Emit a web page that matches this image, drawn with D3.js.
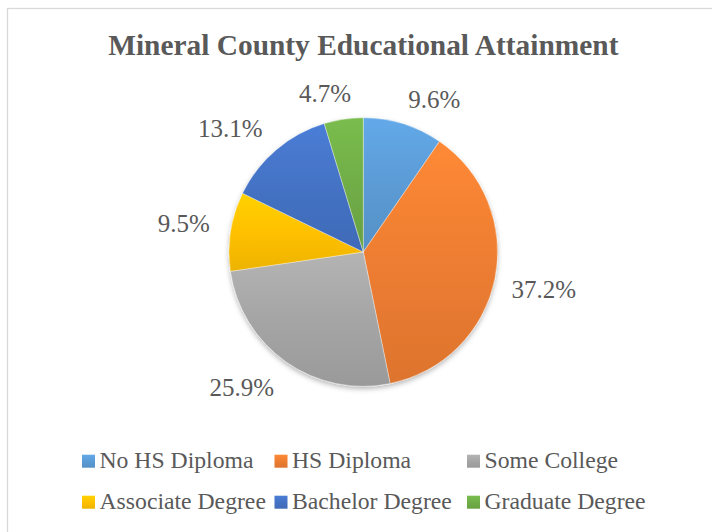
<!DOCTYPE html>
<html>
<head>
<meta charset="utf-8">
<script src="https://cdn.jsdelivr.net/npm/d3@7"></script>
<style>
  html, body { margin: 0; padding: 0; background: #fff; }
  svg { display: block; }
</style>
</head>
<body>
<svg id="chart" width="712" height="532"></svg>
<script>
// ---- data ----
const title = "Mineral County Educational Attainment";
const categories = ["No HS Diploma", "HS Diploma", "Some College", "Associate Degree", "Bachelor Degree", "Graduate Degree"];
const values = [9.6, 37.2, 25.9, 9.5, 13.1, 4.7];
const colors = ["#5B9BD5", "#ED7D31", "#A5A5A5", "#FFC000", "#4472C4", "#70AD47"];

// ---- layout ----
const W = 712, H = 532;
const cx = 363.3, cy = 252, R = 134.3;
const fontFamily = "'Liberation Serif', 'Times New Roman', serif";
const textColor = "#595959";

const svg = d3.select("#chart");
const defs = svg.append("defs");

// chart area border
svg.append("rect")
  .attr("x", 7.5).attr("y", 8.5)
  .attr("width", 730).attr("height", 540)
  .attr("fill", "#fff")
  .attr("stroke", "#d9d9d9").attr("stroke-width", 1.3);

// title
svg.append("text")
  .attr("x", cx).attr("y", 55)
  .attr("text-anchor", "middle")
  .attr("font-family", fontFamily)
  .attr("font-weight", "bold")
  .attr("font-size", 29.4)
  .attr("fill", textColor)
  .text(title);

// gradients per slice
colors.forEach((c, i) => {
  const g = defs.append("linearGradient")
    .attr("id", "grad" + i)
    .attr("x1", 0).attr("y1", 0).attr("x2", 0).attr("y2", 1);
  g.append("stop").attr("offset", "0%").attr("stop-color", d3.color(c).brighter(0.25).formatHex());
  g.append("stop").attr("offset", "50%").attr("stop-color", c);
  g.append("stop").attr("offset", "100%").attr("stop-color", d3.color(c).darker(0.2).formatHex());
});

// shadow filter
const f = defs.append("filter").attr("id", "shadow")
  .attr("x", "-10%").attr("y", "-10%").attr("width", "120%").attr("height", "125%");
f.append("feDropShadow").attr("dx", 0).attr("dy", 2.5).attr("stdDeviation", 2.5)
  .attr("flood-color", "#000").attr("flood-opacity", 0.28);

const pie = d3.pie().sort(null).value(d => d)(values);
const arc = d3.arc().innerRadius(0).outerRadius(R);

const g = svg.append("g").attr("transform", `translate(${cx},${cy})`);
const slices = g.append("g").attr("filter", "url(#shadow)");
slices.selectAll("path")
  .data(pie)
  .join("path")
  .attr("d", arc)
  .attr("fill", (d, i) => `url(#grad${i})`)
  .attr("stroke", "#ffffff")
  .attr("stroke-width", 0.6)
  .attr("stroke-opacity", 0.6);

// data labels (outside end, Excel-like placement)
const labelSize = 25;
const labelOffset = 17;
const clamp = v => Math.max(-1, Math.min(1, v));
const labels = g.append("g")
  .attr("font-family", fontFamily)
  .attr("font-size", labelSize)
  .attr("fill", textColor);

pie.forEach((d, i) => {
  const a = (d.startAngle + d.endAngle) / 2;
  const ux = Math.sin(a), uy = -Math.cos(a);
  const txt = values[i].toFixed(1) + "%";
  const t = labels.append("text").attr("text-anchor", "middle").text(txt);
  const w = t.node().getComputedTextLength();
  const h = labelSize * 0.68;
  const rx = R + labelOffset + (ux < 0 ? 4 : 0);
  const ry = R + labelOffset + (uy > 0 ? 4 : 0);
  const px = rx * ux + clamp(ux * 4) * w / 2;
  const py = ry * uy + clamp(uy * 4) * h / 2;
  t.attr("x", px).attr("y", py + h / 2);
});

// legend
const legendX = 82, colW = 192.5, rowY0 = 467.7, rowH = 41, box = 13, textGap = 17.5;
const legendSize = 23.7;
const legend = svg.append("g")
  .attr("font-family", fontFamily)
  .attr("font-size", legendSize)
  .attr("fill", textColor);

categories.forEach((name, i) => {
  const col = i % 3, row = Math.floor(i / 3);
  const x = legendX + col * colW;
  const y = rowY0 + row * rowH;
  legend.append("rect")
    .attr("x", x).attr("y", y - box)
    .attr("width", box).attr("height", box)
    .attr("fill", `url(#grad${i})`);
  legend.append("text")
    .attr("x", x + textGap).attr("y", y)
    .text(name);
});
</script>
</body>
</html>
